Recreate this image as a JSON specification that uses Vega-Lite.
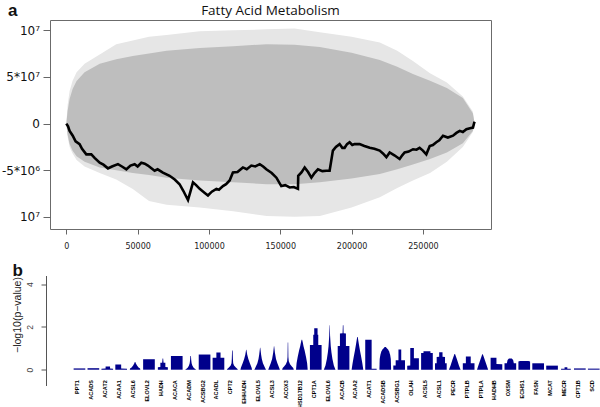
{
  "$schema": "https://vega.github.io/schema/vega-lite/v6.json",
  "autosize": {"type": "pad"},
  "padding": {"left": 0, "top": 1, "right": 0, "bottom": 0},
  "background": "white",
  "config": {"font": "Liberation Sans", "axis": {"grid": false}},
  "title": {"text": "a", "anchor": "start", "frame": "bounds", "fontSize": 17, "fontWeight": "bold", "font": "Liberation Sans", "color": "#111", "offset": -16, "dx": 7},
  "spacing": 10.5,
  "datasets": {
    "band": [
      {"x": 0, "oh": 0, "ol": 0, "ch": 0, "cl": 0},
      {"x": 900, "oh": 2000000, "ol": -1400000, "ch": 1360000, "cl": -1200000},
      {"x": 2300, "oh": 3500000, "ol": -2500000, "ch": 2640000, "cl": -2200000},
      {"x": 4400, "oh": 4600000, "ol": -3200000, "ch": 3700000, "cl": -2900000},
      {"x": 7200, "oh": 5500000, "ol": -3900000, "ch": 4570000, "cl": -3500000},
      {"x": 12800, "oh": 6400000, "ol": -4600000, "ch": 5500000, "cl": -4100000},
      {"x": 23400, "oh": 7400000, "ol": -5300000, "ch": 6400000, "cl": -4700000},
      {"x": 35000, "oh": 8500000, "ol": -6000000, "ch": 6900000, "cl": -5000000},
      {"x": 46600, "oh": 8900000, "ol": -7000000, "ch": 7250000, "cl": -5300000},
      {"x": 58000, "oh": 9300000, "ol": -8300000, "ch": 7500000, "cl": -5500000},
      {"x": 70300, "oh": 9500000, "ol": -8700000, "ch": 7800000, "cl": -5800000},
      {"x": 93500, "oh": 9900000, "ol": -9000000, "ch": 8100000, "cl": -6100000},
      {"x": 117000, "oh": 10000000, "ol": -9400000, "ch": 8300000, "cl": -6300000},
      {"x": 140500, "oh": 10100000, "ol": -9900000, "ch": 8500000, "cl": -6500000},
      {"x": 160000, "oh": 10200000, "ol": -10000000, "ch": 8450000, "cl": -6500000},
      {"x": 177700, "oh": 9800000, "ol": -9900000, "ch": 8200000, "cl": -6300000},
      {"x": 200000, "oh": 9300000, "ol": -9000000, "ch": 7600000, "cl": -5900000},
      {"x": 219800, "oh": 8700000, "ol": -7900000, "ch": 6800000, "cl": -5400000},
      {"x": 232000, "oh": 7800000, "ol": -6900000, "ch": 6100000, "cl": -4900000},
      {"x": 243000, "oh": 6700000, "ol": -6100000, "ch": 5300000, "cl": -4400000},
      {"x": 255000, "oh": 5400000, "ol": -5300000, "ch": 4600000, "cl": -3800000},
      {"x": 266800, "oh": 4400000, "ol": -4100000, "ch": 3800000, "cl": -3100000},
      {"x": 278000, "oh": 2900000, "ol": -2500000, "ch": 2750000, "cl": -2100000},
      {"x": 285000, "oh": 1300000, "ol": -900000, "ch": 1100000, "cl": -800000},
      {"x": 286300, "oh": 0, "ol": 0, "ch": 0, "cl": 0}
    ],
    "walk": [
      {"x": 0, "y": 0}, {"x": 1200, "y": -300000}, {"x": 2300, "y": -780000}, {"x": 4500, "y": -1300000},
      {"x": 6500, "y": -1900000}, {"x": 9300, "y": -2200000}, {"x": 11000, "y": -2700000}, {"x": 14000, "y": -3300000},
      {"x": 17500, "y": -3300000}, {"x": 20000, "y": -3700000}, {"x": 23400, "y": -4200000}, {"x": 26000, "y": -4400000},
      {"x": 29200, "y": -4800000}, {"x": 32000, "y": -4600000}, {"x": 36200, "y": -4350000}, {"x": 39000, "y": -4600000},
      {"x": 42100, "y": -4900000}, {"x": 45000, "y": -4500000}, {"x": 47900, "y": -4350000}, {"x": 50000, "y": -4600000},
      {"x": 52600, "y": -4200000}, {"x": 55000, "y": -4300000}, {"x": 57200, "y": -4500000}, {"x": 61900, "y": -5050000},
      {"x": 64000, "y": -4900000}, {"x": 67700, "y": -5250000}, {"x": 72400, "y": -5600000}, {"x": 76000, "y": -6000000},
      {"x": 79400, "y": -6500000}, {"x": 82000, "y": -7200000}, {"x": 85300, "y": -8200000}, {"x": 87000, "y": -7300000},
      {"x": 88800, "y": -6300000}, {"x": 91000, "y": -6600000}, {"x": 93500, "y": -7000000}, {"x": 96000, "y": -7300000},
      {"x": 99300, "y": -7700000}, {"x": 102000, "y": -7300000}, {"x": 105200, "y": -7000000}, {"x": 107000, "y": -7100000},
      {"x": 109800, "y": -6700000}, {"x": 112000, "y": -6500000}, {"x": 114500, "y": -6100000}, {"x": 116800, "y": -5250000},
      {"x": 120000, "y": -5200000}, {"x": 123800, "y": -4700000}, {"x": 126500, "y": -4900000}, {"x": 129700, "y": -4500000},
      {"x": 132500, "y": -4600000}, {"x": 135600, "y": -4350000}, {"x": 138000, "y": -4600000}, {"x": 140200, "y": -4900000},
      {"x": 144000, "y": -5300000}, {"x": 147300, "y": -5800000}, {"x": 150700, "y": -6700000}, {"x": 153500, "y": -6600000},
      {"x": 156600, "y": -6850000}, {"x": 159500, "y": -6800000}, {"x": 162400, "y": -7000000}, {"x": 162600, "y": -5600000},
      {"x": 165000, "y": -5200000}, {"x": 167100, "y": -4700000}, {"x": 169500, "y": -5200000}, {"x": 171800, "y": -5800000},
      {"x": 174000, "y": -5300000}, {"x": 176400, "y": -4900000}, {"x": 179500, "y": -5100000}, {"x": 182300, "y": -5050000},
      {"x": 184600, "y": -5050000}, {"x": 186900, "y": -2900000}, {"x": 189000, "y": -2500000}, {"x": 191600, "y": -2200000},
      {"x": 193500, "y": -2600000}, {"x": 195100, "y": -2600000}, {"x": 196800, "y": -2200000}, {"x": 198600, "y": -2000000},
      {"x": 200500, "y": -2300000}, {"x": 202100, "y": -2200000}, {"x": 205600, "y": -2200000}, {"x": 209000, "y": -2400000},
      {"x": 212700, "y": -2600000}, {"x": 216000, "y": -2700000}, {"x": 219700, "y": -2900000}, {"x": 222000, "y": -3200000},
      {"x": 224400, "y": -3600000}, {"x": 226700, "y": -3100000}, {"x": 230000, "y": -3400000}, {"x": 233700, "y": -3800000},
      {"x": 235500, "y": -3400000}, {"x": 237200, "y": -3100000}, {"x": 240000, "y": -3000000}, {"x": 243100, "y": -2750000},
      {"x": 245500, "y": -2800000}, {"x": 247700, "y": -2600000}, {"x": 250000, "y": -2900000}, {"x": 252400, "y": -3300000},
      {"x": 254800, "y": -2400000}, {"x": 257000, "y": -2300000}, {"x": 259400, "y": -2000000}, {"x": 261500, "y": -1800000},
      {"x": 264100, "y": -1300000}, {"x": 267500, "y": -1500000}, {"x": 271100, "y": -1300000}, {"x": 273500, "y": -1000000},
      {"x": 275800, "y": -780000}, {"x": 278000, "y": -900000}, {"x": 280500, "y": -600000}, {"x": 283000, "y": -500000},
      {"x": 285100, "y": -430000}, {"x": 286000, "y": 100000}, {"x": 286300, "y": 200000}
    ],
    "genes": [
      {"g": "PPT1", "i": 0, "ys": [0, 0.06], "ls": [0.42, 0.42], "rs": [0.42, 0.42]},
      {"g": "ACADS", "i": 1, "ys": [0, 0.07], "ls": [0.42, 0.42], "rs": [0.42, 0.42]},
      {"g": "ACAT2", "i": 2, "ys": [0, 0.05, 0.051, 0.15], "ls": [0.42, 0.42, 0.12, 0.12], "rs": [0.42, 0.42, 0.2, 0.2]},
      {"g": "ACAA1", "i": 3, "ys": [0, 0.05, 0.051, 0.24], "ls": [0.42, 0.42, 0.42, 0.42], "rs": [0.42, 0.42, 0, 0]},
      {"g": "ACSL6", "i": 4, "ys": [0, 0.06, 0.1, 0.2, 0.3, 0.36], "ls": [0.38, 0.36, 0.25, 0.14, 0.05, 0.02], "rs": [0.38, 0.36, 0.25, 0.14, 0.05, 0.02]},
      {"g": "ELOVL2", "i": 5, "ys": [0, 0.49], "ls": [0.42, 0.42], "rs": [0.42, 0.42]},
      {"g": "HADH", "i": 6, "ys": [0, 0.12, 0.121, 0.32, 0.321, 0.52], "ls": [0.36, 0.36, 0.18, 0.18, 0.05, 0.02], "rs": [0.36, 0.36, 0.18, 0.18, 0.05, 0.02]},
      {"g": "ACACA", "i": 7, "ys": [0, 0.64], "ls": [0.42, 0.42], "rs": [0.42, 0.42]},
      {"g": "ACADM", "i": 8, "ys": [0, 0.05, 0.1, 0.2, 0.3, 0.45, 0.64], "ls": [0.4, 0.3, 0.2, 0.12, 0.07, 0.04, 0.02], "rs": [0.4, 0.3, 0.2, 0.12, 0.07, 0.04, 0.02]},
      {"g": "ACSBG2", "i": 9, "ys": [0, 0.71], "ls": [0.42, 0.42], "rs": [0.42, 0.42]},
      {"g": "ACADL", "i": 10, "ys": [0, 0.56, 0.561, 0.81], "ls": [0.42, 0.42, 0.15, 0.15], "rs": [0.42, 0.42, 0.15, 0.15]},
      {"g": "CPT2", "i": 11, "ys": [0, 0.05, 0.1, 0.2, 0.3, 0.5, 0.9], "ls": [0.4, 0.35, 0.25, 0.12, 0.06, 0.04, 0.02], "rs": [0.4, 0.35, 0.25, 0.12, 0.06, 0.04, 0.02]},
      {"g": "EHHADH", "i": 12, "ys": [0, 0.1, 0.3, 0.5, 0.7, 0.93], "ls": [0.42, 0.38, 0.26, 0.15, 0.07, 0.01], "rs": [0.42, 0.38, 0.26, 0.15, 0.07, 0.01]},
      {"g": "ELOVL5", "i": 13, "ys": [0, 0.1, 0.3, 0.5, 0.7, 1.03], "ls": [0.42, 0.34, 0.2, 0.12, 0.07, 0.01], "rs": [0.42, 0.34, 0.2, 0.12, 0.07, 0.01]},
      {"g": "ACSL3", "i": 14, "ys": [0, 0.1, 0.3, 0.5, 0.8, 1.1], "ls": [0.42, 0.36, 0.24, 0.14, 0.06, 0.01], "rs": [0.42, 0.36, 0.24, 0.14, 0.06, 0.01]},
      {"g": "ACOX3", "i": 15, "ys": [0, 0.08, 0.15, 0.25, 0.4, 0.6, 1.27], "ls": [0.42, 0.38, 0.28, 0.15, 0.06, 0.03, 0.015], "rs": [0.42, 0.38, 0.28, 0.15, 0.06, 0.03, 0.015]},
      {"g": "HSD17B12", "i": 16, "ys": [0, 0.3, 0.6, 0.9, 1.1, 1.3, 1.4], "ls": [0.42, 0.38, 0.3, 0.2, 0.12, 0.06, 0.02], "rs": [0.42, 0.38, 0.3, 0.2, 0.12, 0.06, 0.02]},
      {"g": "CPT1A", "i": 17, "ys": [0, 1.16, 1.161, 1.64, 1.641, 1.94], "ls": [0.42, 0.42, 0.18, 0.18, 0.11, 0.11], "rs": [0.42, 0.42, 0.18, 0.18, 0.13, 0.13]},
      {"g": "ELOVL6", "i": 18, "ys": [0, 0.2, 0.5, 0.8, 1.1, 1.4, 1.6, 2.08], "ls": [0.42, 0.3, 0.2, 0.13, 0.08, 0.05, 0.03, 0.01], "rs": [0.42, 0.3, 0.2, 0.13, 0.08, 0.05, 0.03, 0.01]},
      {"g": "ACACB", "i": 19, "ys": [0, 1.11, 1.111, 1.7, 1.701, 2.08], "ls": [0.42, 0.42, 0.26, 0.26, 0.07, 0.05], "rs": [0.42, 0.42, 0.17, 0.17, 0, -0.01]},
      {"g": "ACAA2", "i": 20, "ys": [0, 0.3, 0.6, 0.9, 1.2, 1.53], "ls": [0.42, 0.35, 0.27, 0.18, 0.1, 0.02], "rs": [0.42, 0.35, 0.27, 0.18, 0.1, 0.02]},
      {"g": "ACAT1", "i": 21, "ys": [0, 0.04, 0.041, 1.4], "ls": [0.44, 0.44, 0.44, 0.44], "rs": [0.38, 0.38, 0.02, 0.02]},
      {"g": "ACADSB", "i": 22, "ys": [0, 0.5, 0.7, 0.85, 0.95, 1.02, 1.06], "ls": [0.42, 0.4, 0.35, 0.28, 0.2, 0.1, 0.04], "rs": [0.42, 0.4, 0.35, 0.28, 0.2, 0.1, 0.04]},
      {"g": "ACSBG1", "i": 23, "ys": [0, 0.2, 0.201, 0.44, 0.441, 0.95], "ls": [0.42, 0.42, 0.25, 0.25, 0.05, 0.05], "rs": [0.42, 0.42, 0.42, 0.42, 0.15, 0.15]},
      {"g": "OLAH", "i": 24, "ys": [0, 0.19, 0.191, 0.54, 0.541, 1.02], "ls": [0.42, 0.42, 0.2, 0.2, 0.2, 0.2], "rs": [0.42, 0.42, 0.42, 0.42, 0.06, 0.06]},
      {"g": "ACSL5", "i": 25, "ys": [0, 0.78, 0.781, 0.86], "ls": [0.42, 0.42, 0.25, 0.25], "rs": [0.42, 0.42, 0.25, 0.25]},
      {"g": "ACSL1", "i": 26, "ys": [0, 0.3, 0.301, 0.6, 0.601, 0.82], "ls": [0.42, 0.42, 0.3, 0.3, 0.12, 0.12], "rs": [0.42, 0.42, 0.3, 0.3, 0.12, 0.12]},
      {"g": "PECR", "i": 27, "ys": [0, 0.2, 0.5, 0.74], "ls": [0.42, 0.3, 0.15, 0.02], "rs": [0.42, 0.3, 0.15, 0.02]},
      {"g": "PTPLB", "i": 28, "ys": [0, 0.3, 0.301, 0.62], "ls": [0.42, 0.42, 0.2, 0.2], "rs": [0.42, 0.42, 0.15, 0.15]},
      {"g": "PTPLA", "i": 29, "ys": [0, 0.2, 0.5, 0.72], "ls": [0.4, 0.3, 0.14, 0.02], "rs": [0.4, 0.3, 0.14, 0.02]},
      {"g": "HADHB", "i": 30, "ys": [0, 0.26, 0.261, 0.56], "ls": [0.42, 0.42, 0.42, 0.42], "rs": [0.42, 0.42, 0, 0]},
      {"g": "OXSM", "i": 31, "ys": [0, 0.3, 0.301, 0.45, 0.52], "ls": [0.42, 0.42, 0.25, 0.2, 0.1], "rs": [0.42, 0.42, 0.25, 0.2, 0.1]},
      {"g": "ECHS1", "i": 32, "ys": [0, 0.38, 0.41], "ls": [0.42, 0.42, 0.3], "rs": [0.42, 0.42, 0.3]},
      {"g": "FASN", "i": 33, "ys": [0, 0.3], "ls": [0.42, 0.42], "rs": [0.42, 0.42]},
      {"g": "MCAT", "i": 34, "ys": [0, 0.19], "ls": [0.42, 0.42], "rs": [0.42, 0.42]},
      {"g": "MECR", "i": 35, "ys": [0, 0.04, 0.041, 0.12], "ls": [0.35, 0.35, 0.1, 0.1], "rs": [0.35, 0.35, 0.1, 0.1]},
      {"g": "CPT1B", "i": 36, "ys": [0, 0.06], "ls": [0.42, 0.42], "rs": [0.42, 0.42]},
      {"g": "SCD", "i": 37, "ys": [0, 0.05], "ls": [0.42, 0.42], "rs": [0.42, 0.42]}
    ]
  },
  "vconcat": [
    {
      "width": 441,
      "height": 209,
      "view": {"stroke": "#6b6b6b", "strokeWidth": 1},
      "title": {"text": "Fatty Acid Metabolism", "anchor": "middle", "fontSize": 13.5, "font": "Open Sans", "fontWeight": "normal", "color": "#111", "offset": 2.5},
      "layer": [
        {
          "data": {"name": "band"},
          "mark": {"type": "area", "color": "#e6e6e6"},
          "encoding": {
            "x": {"field": "x", "type": "quantitative", "scale": {"domain": [-11450, 297750], "nice": false, "zero": false},
              "axis": {"values": [0, 50000, 100000, 150000, 200000, 250000], "format": "d", "title": null, "domain": false,
                "labelFont": "DejaVu Sans", "labelFontSize": 8, "labelColor": "#222", "tickSize": 5, "tickColor": "#666", "labelPadding": 8.5}},
            "y": {"field": "oh", "type": "quantitative", "scale": {"domain": [-11300000, 11100000], "nice": false, "zero": false},
              "axis": {"values": [-10000000, -5000000, 0, 5000000, 10000000], "title": null, "domain": false,
                "labelExpr": "datum.value == 10000000 ? '10⁷' : datum.value == 5000000 ? '5*10⁷' : datum.value == 0 ? '0' : datum.value == -5000000 ? '-5*10⁶' : '10⁷'",
                "labelFont": "DejaVu Sans", "labelFontSize": 12, "labelColor": "#111", "tickSize": 7, "tickColor": "#666", "labelPadding": 3.5}},
            "y2": {"field": "ol"}
          }
        },
        {
          "data": {"name": "band"},
          "mark": {"type": "area", "color": "#bebebe"},
          "encoding": {
            "x": {"field": "x", "type": "quantitative"},
            "y": {"field": "ch", "type": "quantitative"},
            "y2": {"field": "cl"}
          }
        },
        {
          "data": {"name": "walk"},
          "mark": {"type": "line", "color": "#000000", "strokeWidth": 2.6, "strokeJoin": "miter"},
          "encoding": {
            "x": {"field": "x", "type": "quantitative"},
            "y": {"field": "y", "type": "quantitative"}
          }
        }
      ]
    },
    {
      "width": 550,
      "height": 110,
      "view": {"stroke": null},
      "title": {"text": "b", "anchor": "start", "frame": "bounds", "fontSize": 17, "fontWeight": "bold", "font": "Liberation Sans", "color": "#111", "offset": -4.6},
      "layer": [
        {
          "data": {"name": "genes"},
          "transform": [
            {"flatten": ["ys", "ls", "rs"]},
            {"calculate": "datum.i - datum.ls", "as": "x0"},
            {"calculate": "datum.i + datum.rs", "as": "x1"}
          ],
          "mark": {"type": "area", "orient": "horizontal", "color": "#00008b"},
          "encoding": {
            "y": {"field": "ys", "type": "quantitative", "scale": {"domain": [-0.74, 4.41], "nice": false, "zero": false},
              "axis": {"values": [0, 2, 4], "title": "−log10(p−value)", "titleFont": "Liberation Sans", "titleFontSize": 10.5, "titleFontWeight": "normal", "titleColor": "#222",
                "titleY": 39, "labelAngle": 270, "labelAlign": "center", "labelBaseline": "bottom", "labelFont": "Liberation Sans", "labelFontSize": 8.5, "labelColor": "#444",
                "tickSize": 5, "tickColor": "#555", "domainColor": "#555", "offset": 4, "labelPadding": 6.5, "titlePadding": 3}},
            "x": {"field": "x0", "type": "quantitative", "scale": {"domain": [-2.12, 37.45], "nice": false, "zero": false}, "axis": null},
            "x2": {"field": "x1"},
            "detail": {"field": "g"}
          }
        },
        {
          "data": {"name": "genes"},
          "mark": {"type": "text", "angle": 270, "align": "right", "baseline": "alphabetic", "fontSize": 5.5, "fontWeight": "bold", "font": "Liberation Sans", "color": "#000"},
          "encoding": {
            "x": {"field": "i", "type": "quantitative"},
            "y": {"datum": -0.49},
            "text": {"field": "g"}
          }
        }
      ]
    }
  ]
}
